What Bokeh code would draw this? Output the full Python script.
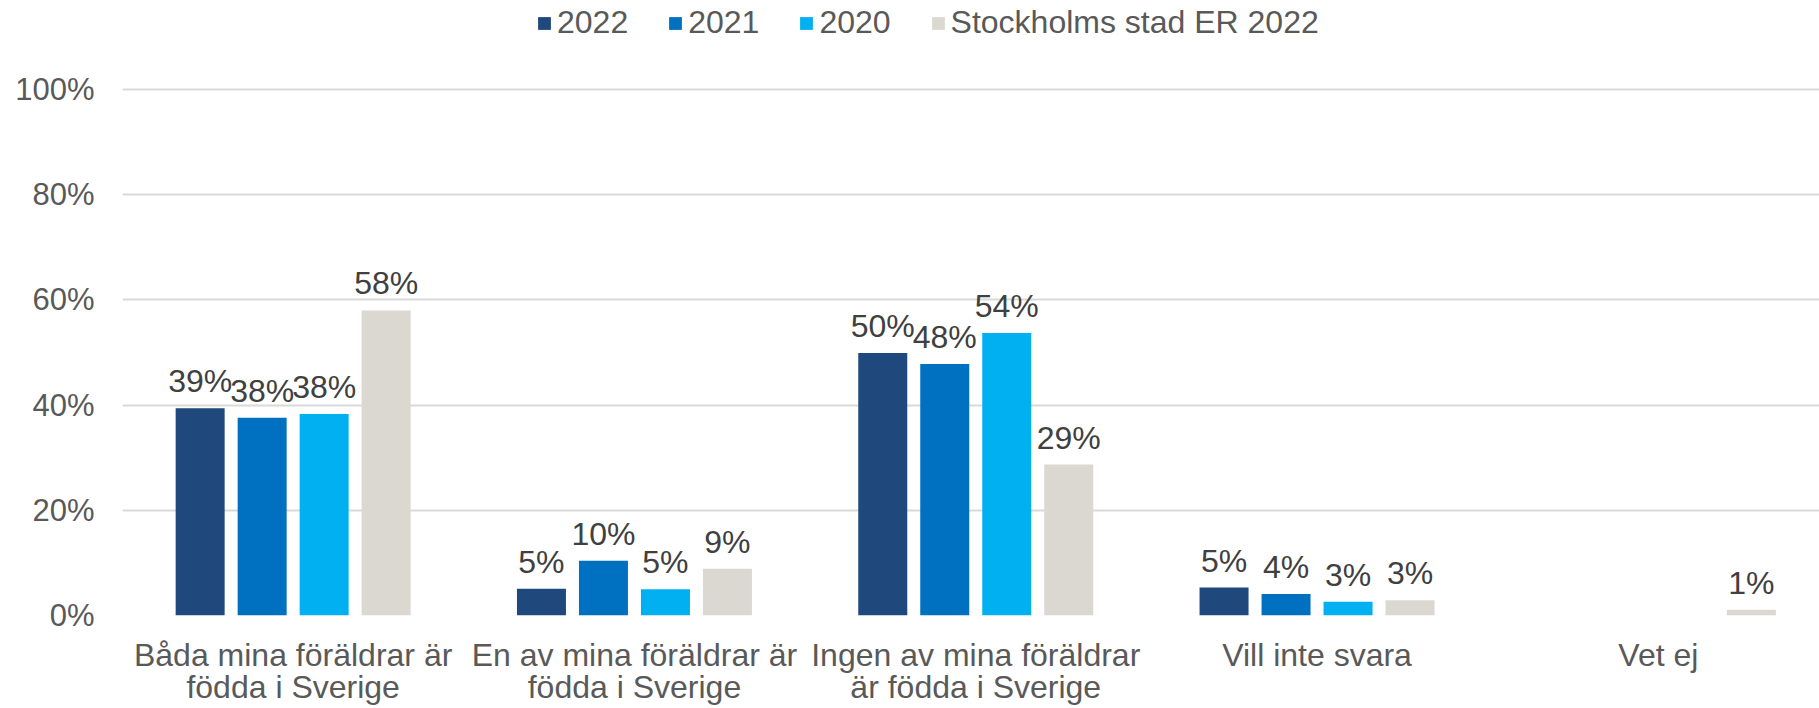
import math
from bokeh.plotting import figure
from bokeh.models import (ColumnDataSource, Range1d, FixedTicker, NumeralTickFormatter,
                          Legend, LegendItem, LinearAxis)
from bokeh.core.properties import value
from bokeh.embed import file_html
from bokeh.resources import INLINE

categories_line1 = ["Båda mina föräldrar är", "En av mina föräldrar är",
                    "Ingen av mina föräldrar", "Vill inte svara", "Vet ej"]
categories_line2 = ["födda i Sverige", "födda i Sverige", "är födda i Sverige", "", ""]
series_names = ["2022", "2021", "2020", "Stockholms stad ER 2022"]
v2022 = [0.394, 0.051, 0.499, 0.053, None]
v2021 = [0.376, 0.104, 0.478, 0.041, None]
v2020 = [0.383, 0.050, 0.537, 0.026, None]
vsthlm = [0.580, 0.089, 0.287, 0.029, 0.011]
y_ticks = [0.0, 0.2, 0.4, 0.6, 0.8, 1.0]

colors = ["#1F497D", "#0070C0", "#00B0F0", "#DAD8D1"]
FONT = "Liberation Sans"
FS = "32px"
FS_TICK = "31px"

W, H = 1819, 708
left, bottom = 122, 93
gridtop = 89
frame_h = H - bottom
plot_h = frame_h - gridtop
y_end = frame_h / plot_h
cat_px = 341.3
x_end = (W - left) / cat_px

p = figure(width=W, height=H, output_backend="svg", toolbar_location=None,
           x_range=Range1d(0, x_end), y_range=Range1d(0, y_end),
           min_border_left=left, min_border_right=0, min_border_top=0,
           min_border_bottom=bottom, x_axis_location=None)
p.outline_line_color = None
p.background_fill_color = "white"
p.border_fill_color = "white"

bar_w = 49 / cat_px
step = 62 / cat_px
offsets = [(i - 1.5) * step for i in range(4)]

items = []
for vals, name, col, off in zip([v2022, v2021, v2020, vsthlm], series_names, colors, offsets):
    xs, tops, labels = [], [], []
    for i, v in enumerate(vals):
        if v is None:
            continue
        xs.append(i + 0.5 + off)
        tops.append(v)
        labels.append(f"{int(math.floor(v * 100 + 0.5))}%")
    src = ColumnDataSource(dict(x=xs, top=tops, label=labels))
    r = p.vbar(x="x", top="top", width=bar_w, bottom=0, source=src,
               fill_color=col, line_color=None)
    p.text(x="x", y="top", text="label", source=src, text_align="center",
           text_baseline="alphabetic", y_offset=-27, text_font=value(FONT),
           text_font_size=FS, text_color="#404040")
    items.append(LegendItem(label=name, renderers=[r]))

legend = Legend(items=items, orientation="horizontal", location=(414, 574),
                label_text_font=FONT, label_text_font_size=FS,
                label_text_color="#595959", glyph_width=16, glyph_height=16,
                label_standoff=5, spacing=39, padding=0, margin=0,
                border_line_color=None, background_fill_alpha=0)
p.add_layout(legend, "center")

p.yaxis.ticker = FixedTicker(ticks=y_ticks)
p.yaxis.formatter = NumeralTickFormatter(format="0%")
p.yaxis.axis_line_color = None
p.yaxis.major_tick_line_color = None
p.yaxis.minor_tick_line_color = None
p.yaxis.major_tick_out = 0
p.yaxis.major_label_text_font = FONT
p.yaxis.major_label_text_font_size = FS_TICK
p.yaxis.major_label_text_color = "#595959"
p.yaxis.major_label_standoff = 28

xticks = [i + 0.5 for i in range(len(categories_line1))]
for labels_, standoff in ((categories_line1, 21), (categories_line2, -7)):
    ax = LinearAxis(ticker=FixedTicker(ticks=xticks),
                    major_label_overrides={t: s for t, s in zip(xticks, labels_)},
                    axis_line_color=None, major_tick_line_color=None,
                    minor_tick_line_color=None, major_tick_out=0, major_tick_in=0,
                    minor_tick_out=0,
                    major_label_text_font=FONT, major_label_text_font_size=FS,
                    major_label_text_color="#595959", major_label_standoff=standoff)
    p.add_layout(ax, "below")

p.xgrid.grid_line_color = None
p.ygrid.ticker = FixedTicker(ticks=y_ticks)
p.ygrid.grid_line_color = "#D9D9D9"
p.ygrid.grid_line_width = 2

open("out.html", "w").write(file_html(p, INLINE))
